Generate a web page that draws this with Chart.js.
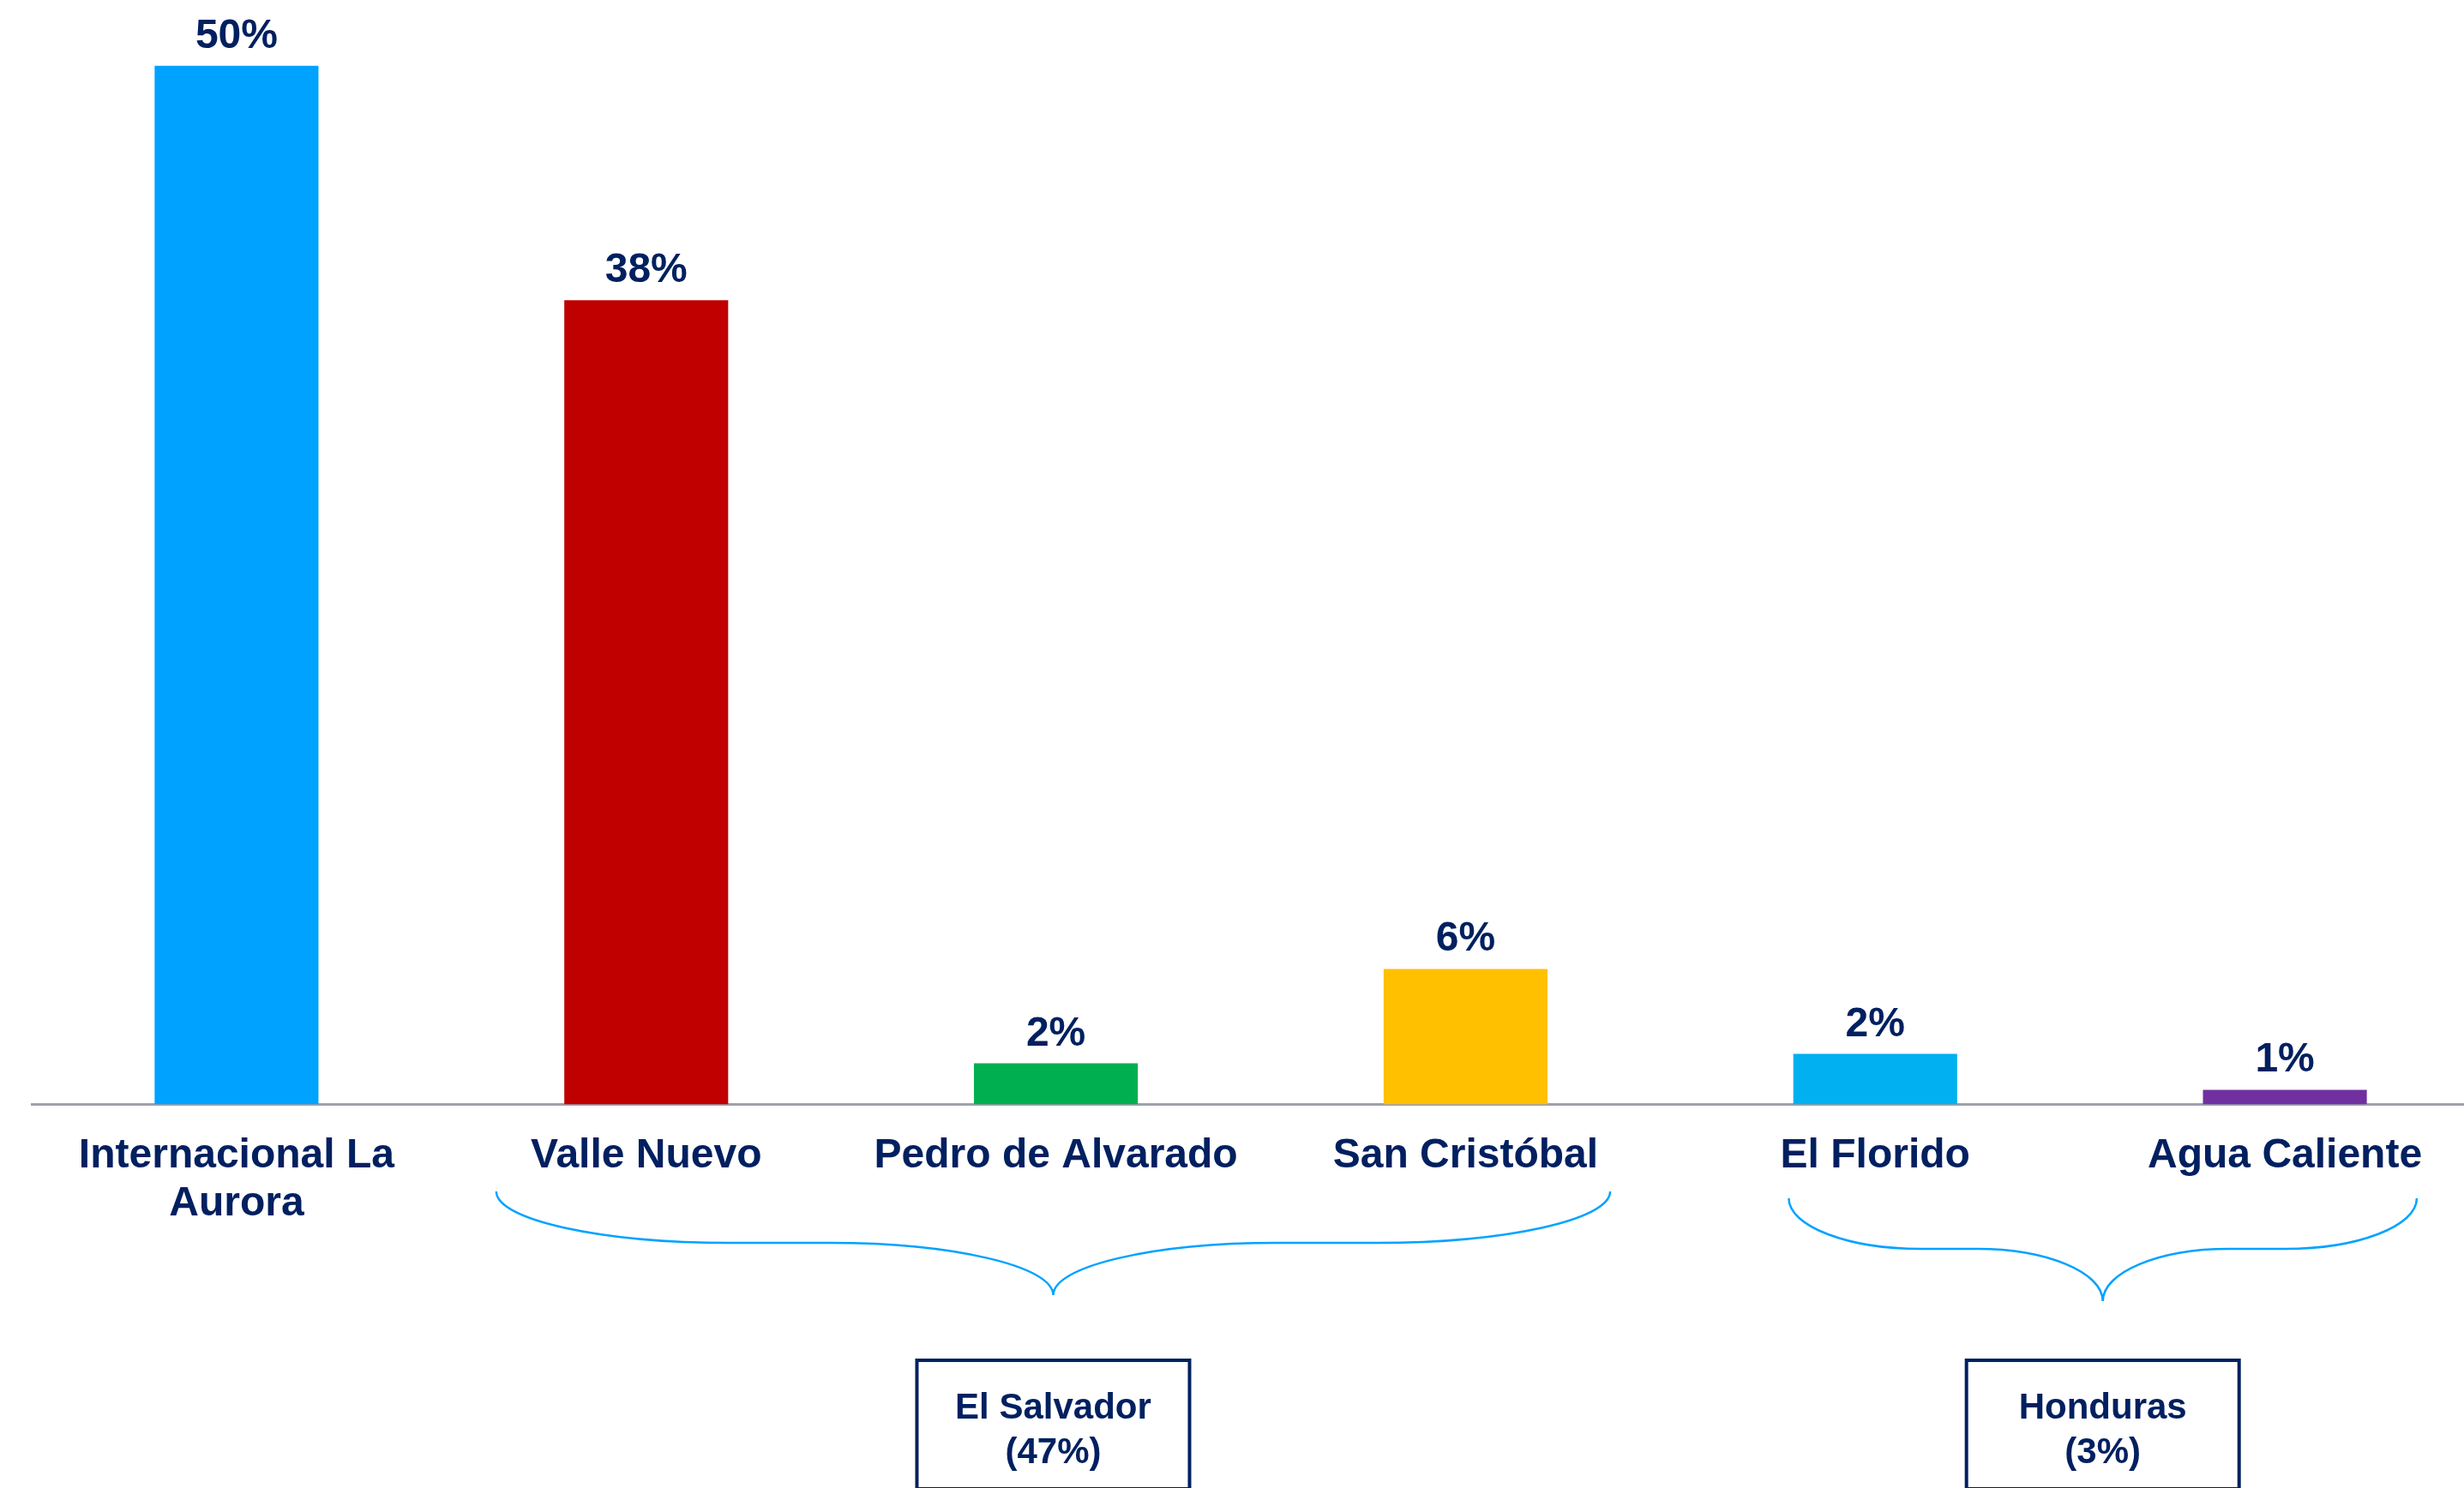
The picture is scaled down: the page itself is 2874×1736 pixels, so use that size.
<!DOCTYPE html>
<html>
<head>
<meta charset="utf-8">
<script src="https://cdn.jsdelivr.net/npm/chart.js@4.4.1/dist/chart.umd.min.js"></script>
<style>
    html, body { margin: 0; padding: 0; background: #fff; overflow: hidden; }
    canvas { display: block; }
</style>
</head>
<body>
<canvas id="myChart" width="2904" height="1736"></canvas>
<script>
const labels = [
    ['Internacional La', 'Aurora'],
    'Valle Nuevo',
    'Pedro de Alvarado',
    'San Cristóbal',
    'El Florido',
    'Agua Caliente'
];

// share of traffic per border crossing, in %
const shares = [49.6, 38.4, 1.96, 6.47, 2.41, 0.70];

const groupNames = ['El Salvador', 'Honduras'];
const groupMembers = [[1, 2, 3], [4, 5]];

const barColors = ['#00A2FF', '#C00000', '#00B050', '#FFC000', '#00B0F0', '#7030A0'];
const navy = '#002060';
const fontFamily = "'Liberation Sans', Arial, sans-serif";

// brace ends in category units, and their y rows (top, middle, tip)
const braceSpans = [[0.634, 3.353], [3.789, 5.322]];
const braceRows = [[1390, 1450, 1511], [1398, 1457, 1518]];

const valueLabels = {
    id: 'valueLabels',
    afterDatasetsDraw(chart) {
        const ctx = chart.ctx;
        ctx.save();
        ctx.font = 'bold 48px ' + fontFamily;
        ctx.fillStyle = navy;
        ctx.textAlign = 'center';
        ctx.textBaseline = 'alphabetic';
        chart.getDatasetMeta(0).data.forEach((bar, i) => {
            ctx.fillText(Math.round(shares[i]) + '%', bar.x, bar.y - 21);
        });
        ctx.restore();
    }
};

function halfBrace(ctx, xEnd, xTip, yTop, yMid, yTip) {
    const k = 0.5523;
    const L = xTip - xEnd;
    const xa = xEnd + L * 0.42;
    const xb = xEnd + L * 0.60;
    ctx.moveTo(xEnd, yTop);
    ctx.bezierCurveTo(xEnd, yTop + k * (yMid - yTop), xa - k * (xa - xEnd), yMid, xa, yMid);
    ctx.lineTo(xb, yMid);
    ctx.bezierCurveTo(xb + k * (xTip - xb), yMid, xTip, yTip - k * (yTip - yMid), xTip, yTip);
}

const groupBoxes = {
    id: 'groupBoxes',
    afterDraw(chart) {
        const ctx = chart.ctx;
        const x = chart.scales.x;
        ctx.save();
        groupNames.forEach((name, g) => {
            const left = x.getPixelForValue(braceSpans[g][0]);
            const right = x.getPixelForValue(braceSpans[g][1]);
            const tip = (left + right) / 2;
            const [yTop, yMid, yTip] = braceRows[g];

            ctx.beginPath();
            halfBrace(ctx, left, tip, yTop, yMid, yTip);
            halfBrace(ctx, right, tip, yTop, yMid, yTip);
            ctx.strokeStyle = '#00A2FF';
            ctx.lineWidth = 2.5;
            ctx.stroke();

            const total = groupMembers[g].reduce((s, i) => s + shares[i], 0);
            ctx.strokeStyle = navy;
            ctx.lineWidth = 4;
            ctx.strokeRect(tip - 159, 1587, 318, 150);

            ctx.fillStyle = navy;
            ctx.font = 'bold 42px ' + fontFamily;
            ctx.textAlign = 'center';
            ctx.textBaseline = 'alphabetic';
            ctx.fillText(name, tip, 1655);
            ctx.fillText('(' + Math.round(total) + '%)', tip, 1707);
        });
        ctx.restore();
    }
};

const data = {
    labels: labels,
    datasets: [{
        data: shares,
        backgroundColor: barColors,
        barPercentage: 0.4,
        categoryPercentage: 1.0
    }]
};

const config = {
    type: 'bar',
    data,
    plugins: [valueLabels, groupBoxes],
    options: {
        responsive: false,
        animation: false,
        layout: {
            padding: { top: 18, left: 37, right: 0, bottom: 0 }
        },
        plugins: {
            legend: { display: false },
            tooltip: { enabled: false }
        },
        scales: {
            x: {
                grid: { display: false, drawTicks: false },
                border: { display: true, color: '#9FA1AD', width: 3 },
                ticks: {
                    color: navy,
                    padding: 32,
                    maxRotation: 0,
                    autoSkip: false,
                    font: { family: fontFamily, size: 48, weight: 'bold', lineHeight: 1.17 }
                },
                afterFit(scale) {
                    scale.height = 447.5;
                }
            },
            y: {
                display: false,
                min: 0,
                max: 52
            }
        }
    }
};

var myChart = new Chart(
    document.getElementById('myChart'),
    config
);
</script>
</body>
</html>
